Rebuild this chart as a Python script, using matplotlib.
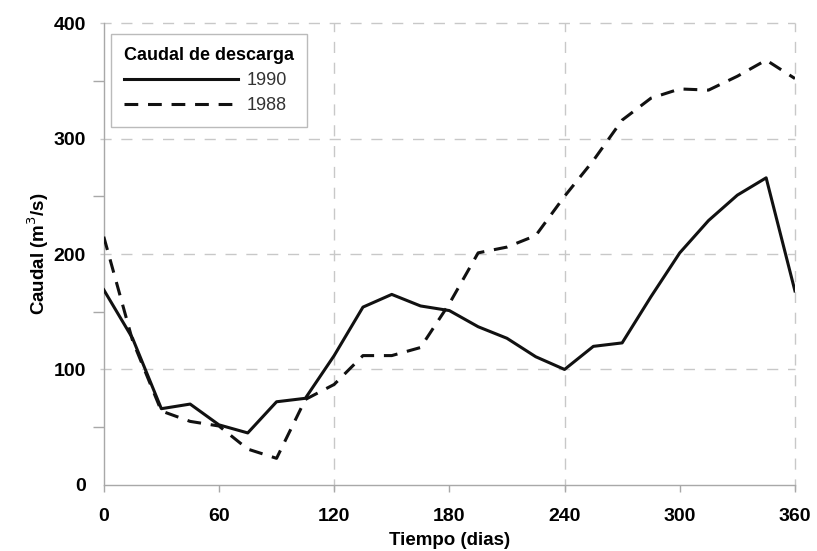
import matplotlib
matplotlib.use("Agg")
import matplotlib.pyplot as plt
from matplotlib.ticker import MultipleLocator

plt.rcParams['font.family'] = ['Liberation Sans', 'DejaVu Sans']

# days, every 15
dias = list(range(0, 361, 15))
caudal_1990 = [169, 127, 66, 70, 52, 45, 72, 75, 112, 154, 165, 155, 151, 137, 127,
               111, 100, 120, 123, 163, 201, 229, 251, 266, 168]
caudal_1988 = [215, 125, 64, 55, 51, 31, 23, 74, 87, 112, 112, 119, 157, 201, 206,
               216, 250, 281, 316, 335, 343, 342, 354, 368, 352]

fig = plt.figure(figsize=(8.17, 5.51), dpi=100)
ax = fig.add_axes([0.127, 0.120, 0.846, 0.838])

ax.plot(dias, caudal_1990, color='#111111', lw=2.2, ls='-', label='1990', zorder=3)
ax.plot(dias, caudal_1988, color='#111111', lw=2.2, ls=(0, (4.5, 3.2)), label='1988', zorder=3)

ax.set_xlim(0, 360)
ax.set_ylim(0, 400)
ax.xaxis.set_major_locator(MultipleLocator(60))
ax.yaxis.set_major_locator(MultipleLocator(100))
ax.yaxis.set_minor_locator(MultipleLocator(50))

# grid only at 120/240/360 and 100/200/300/400
grid_kw = dict(color='#c8c8c8', lw=1.0, ls=(0, (8, 7)), zorder=1, clip_on=False)
for gx in [120, 240, 360]:
    ax.axvline(gx, ymin=-0.012, **grid_kw)
for gy in [100, 200, 300, 400]:
    ax.axhline(gy, xmin=-0.006, **grid_kw)

for s in ['top', 'right']:
    ax.spines[s].set_visible(False)
for s in ['left', 'bottom']:
    ax.spines[s].set_color('#a8a8a8')
    ax.spines[s].set_linewidth(1.0)
ax.tick_params(axis='both', which='both', color='#a8a8a8', length=5, width=1.0,
               labelsize=14, pad=12)
ax.tick_params(axis='y', which='minor', length=8)
ax.tick_params(axis='y', which='major', length=0, pad=13)
for lab in ax.get_xticklabels() + ax.get_yticklabels():
    lab.set_fontweight('bold')

ax.set_xlabel('Tiempo (dias)', fontsize=13.5, fontweight='bold', labelpad=5)
ax.set_ylabel('Caudal (m$^3$/s)', fontsize=13.5, fontweight='bold', labelpad=2)

leg = ax.legend(title='Caudal de descarga', loc='upper left', bbox_to_anchor=(0.011, 0.976),
                fontsize=13, title_fontproperties={'weight': 'bold', 'size': 13},
                fancybox=False, edgecolor='#bbbbbb', framealpha=1, handlelength=6.3,
                borderpad=0.7, labelspacing=0.45, handletextpad=0.5, borderaxespad=0)
leg._legend_box.align = 'left'
leg.get_frame().set_linewidth(1.0)
for t in leg.get_texts():
    t.set_color('#333333')

fig.savefig('out.png', dpi=100, facecolor='white')
